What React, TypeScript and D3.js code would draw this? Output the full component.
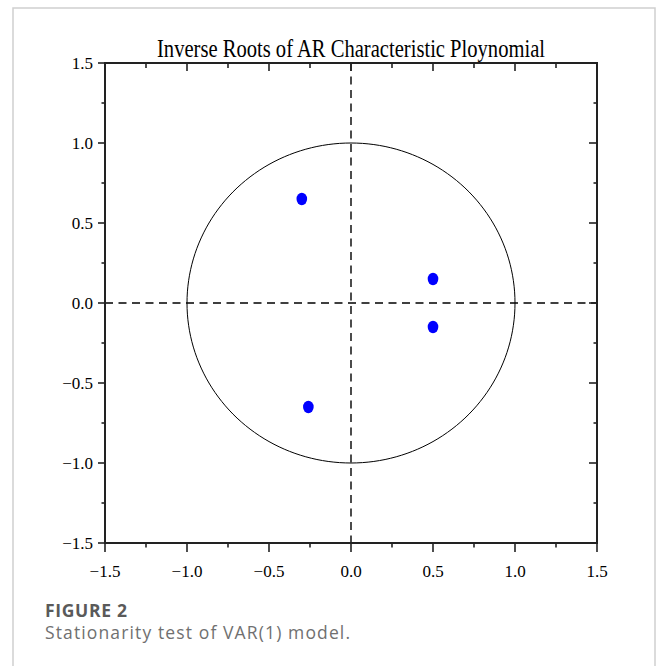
import React from "react";
import * as d3 from "d3";

const rootsRe = [-0.3, 0.5, 0.5, -0.26];
const rootsIm = [0.65, 0.15, -0.15, -0.65];
const majorTicks = [-1.5, -1.0, -0.5, 0.0, 0.5, 1.0, 1.5];
const minorTicks = [-1.25, -0.75, -0.25, 0.25, 0.75, 1.25];
const titleText = "Inverse Roots of AR Characteristic Ploynomial";
const figureLabel = "FIGURE 2";
const captionText = "Stationarity test of VAR(1) model.";

const fmt = (v: number) => {
  const s = Math.abs(v).toFixed(1);
  return v < 0 ? "\u2212" + s : s;
};

export default function App() {
  const W = 656;
  const H = 666;
  const left = 105, right = 597, top = 63, bottom = 543;
  const x = d3.scaleLinear().domain([-1.5, 1.5]).range([left, right]);
  const y = d3.scaleLinear().domain([-1.5, 1.5]).range([bottom, top]);

  const circlePts = d3.range(0, 361, 2).map((a) => {
    const t = (a * Math.PI) / 180;
    return [x(Math.cos(t)), y(Math.sin(t))] as [number, number];
  });
  const circlePath = d3.line()(circlePts) + "Z";

  const axisColor = "#222";
  const font = "'Liberation Serif', 'Times New Roman', serif";

  return (
    <svg
      width={W}
      height={H}
      style={{ position: "absolute", left: 0, top: 0, background: "#fff" }}
    >
      {/* frame */}
      <path d={`M13,${H} L13,8 L655,8 L655,${H}`} fill="none" stroke="#d0d0d0" strokeWidth={1.5} />

      {/* title */}
      <text
        x={351}
        y={57}
        textAnchor="middle"
        fontFamily={font}
        fontSize={25}
        textLength={388}
        lengthAdjust="spacingAndGlyphs"
        fill="#000"
      >
        {titleText}
      </text>

      {/* unit circle */}
      <path d={circlePath} fill="none" stroke="#000" strokeWidth={1} />

      {/* dashed zero lines */}
      <line x1={x(-1.5)} x2={x(1.5)} y1={y(0)} y2={y(0)} stroke="#000" strokeWidth={1.4} strokeDasharray="8,5.5" />
      <line x1={x(0)} x2={x(0)} y1={y(1.5)} y2={y(-1.5)} stroke="#000" strokeWidth={1.4} strokeDasharray="8,5.5" />

      {/* points */}
      {rootsRe.map((r, i) => (
        <ellipse key={i} cx={x(r)} cy={y(rootsIm[i])} rx={5.3} ry={6.2} fill="#0000ff" />
      ))}

      {/* axes box */}
      <rect x={left} y={top} width={right - left} height={bottom - top} fill="none" stroke={axisColor} strokeWidth={2} />

      {/* left axis ticks (outward) */}
      {majorTicks.map((t) => (
        <line key={"lm" + t} x1={left - 7} x2={left} y1={y(t)} y2={y(t)} stroke={axisColor} strokeWidth={1.6} />
      ))}
      {minorTicks.map((t) => (
        <line key={"ln" + t} x1={left - 3.5} x2={left} y1={y(t)} y2={y(t)} stroke={axisColor} strokeWidth={1.6} />
      ))}
      {/* bottom axis ticks (outward) */}
      {majorTicks.map((t) => (
        <line key={"bm" + t} x1={x(t)} x2={x(t)} y1={bottom} y2={bottom + 9} stroke={axisColor} strokeWidth={1.6} />
      ))}
      {minorTicks.map((t) => (
        <line key={"bn" + t} x1={x(t)} x2={x(t)} y1={bottom} y2={bottom + 4.5} stroke={axisColor} strokeWidth={1.6} />
      ))}
      {/* top axis ticks (inward) */}
      {majorTicks.map((t) => (
        <line key={"tm" + t} x1={x(t)} x2={x(t)} y1={top} y2={top + 8} stroke={axisColor} strokeWidth={1.6} />
      ))}
      {minorTicks.map((t) => (
        <line key={"tn" + t} x1={x(t)} x2={x(t)} y1={top} y2={top + 5} stroke={axisColor} strokeWidth={1.6} />
      ))}
      {/* right axis ticks (inward) */}
      {majorTicks.map((t) => (
        <line key={"rm" + t} x1={right - 8} x2={right} y1={y(t)} y2={y(t)} stroke={axisColor} strokeWidth={1.6} />
      ))}
      {minorTicks.map((t) => (
        <line key={"rn" + t} x1={right - 3.5} x2={right} y1={y(t)} y2={y(t)} stroke={axisColor} strokeWidth={1.6} />
      ))}

      {/* y tick labels */}
      {majorTicks.map((t) => (
        <text
          key={"yl" + t}
          x={left - 12}
          y={y(t)}
          dy="0.35em"
          textAnchor="end"
          fontFamily={font}
          fontSize={17}
          fill="#000"
        >
          {fmt(t)}
        </text>
      ))}
      {/* x tick labels */}
      {majorTicks.map((t) => (
        <text
          key={"xl" + t}
          x={x(t)}
          y={577}
          textAnchor="middle"
          fontFamily={font}
          fontSize={17}
          fill="#000"
        >
          {fmt(t)}
        </text>
      ))}

      {/* caption */}
      <text
        x={45}
        y={617}
        fontFamily="'Open Sans', sans-serif"
        fontWeight={700}
        fontSize={17.5}
        textLength={82}
        lengthAdjust="spacing"
        fill="#5a5a5a"
      >
        {figureLabel}
      </text>
      <text
        x={45}
        y={639}
        fontFamily="'Open Sans', sans-serif"
        fontSize={17.5}
        textLength={305}
        lengthAdjust="spacing"
        fill="#707070"
      >
        {captionText}
      </text>
    </svg>
  );
}
